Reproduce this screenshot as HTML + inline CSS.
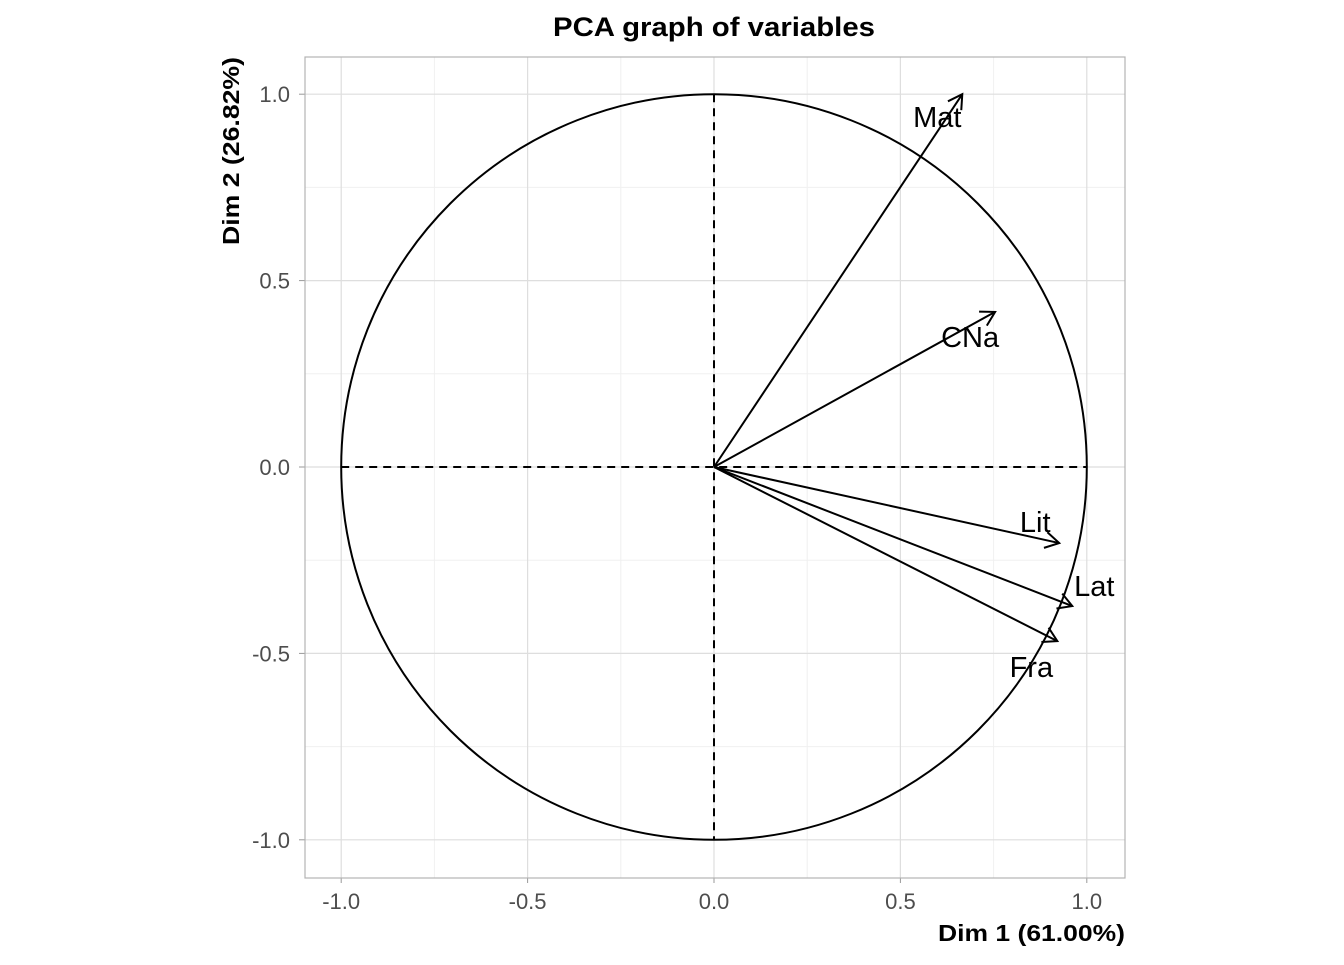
<!DOCTYPE html>
<html><head><meta charset="utf-8"><style>
body{margin:0;background:#fff;}
svg text{font-family:"Liberation Sans",Arial,sans-serif;}
</style></head><body>
<svg id="chart" width="1344" height="960" xmlns="http://www.w3.org/2000/svg">
<text x="714" y="36" text-anchor="middle" font-size="27" font-weight="bold" textLength="322" lengthAdjust="spacingAndGlyphs">PCA graph of variables</text>
<g id="grid"></g>
<g id="marks"></g>
<g id="axes"></g>
</svg>
<script>
const variables = ["Mat","CNa","Lit","Lat","Fra"];
const dim1 = [0.666, 0.754, 0.926, 0.961, 0.921];
const dim2 = [1.0, 0.416, -0.204, -0.373, -0.467];
const labelDx = [-25, -25, -24, 22, -26];
const labelDy = [33, 35, -11, -10, 36];
const ticks = [-1.0, -0.5, 0.0, 0.5, 1.0];
const tickLabels = ["-1.0","-0.5","0.0","0.5","1.0"];
const minorTicks = [-0.75, -0.25, 0.25, 0.75];

const NS="http://www.w3.org/2000/svg";
const X0=714, Y0=467, S=372.8;
const sx=v=>X0+v*S, sy=v=>Y0-v*S;
const PL=305, PR=1125, PT=57, PB=878;
function mk(tag,attrs,parent){const e=document.createElementNS(NS,tag);for(const k in attrs)e.setAttribute(k,attrs[k]);parent.appendChild(e);return e;}
const grid=document.getElementById('grid'), marks=document.getElementById('marks'), axes=document.getElementById('axes');
mk('rect',{x:PL,y:PT,width:PR-PL,height:PB-PT,fill:'#fff'},grid);
minorTicks.forEach(t=>{
  let l=mk('line',{x1:sx(t),x2:sx(t),y1:PT,y2:PB,stroke:'#f0f0f0','stroke-width':1},grid);
  
  
  l=mk('line',{x1:PL,x2:PR,y1:sy(t),y2:sy(t),stroke:'#f0f0f0','stroke-width':1},grid);
  
  
});
ticks.forEach((t,i)=>{
  let l=mk('line',{x1:sx(t),x2:sx(t),y1:PT,y2:PB,stroke:'#dedede','stroke-width':1.2},grid);
  
  
  l=mk('line',{x1:PL,x2:PR,y1:sy(t),y2:sy(t),stroke:'#dedede','stroke-width':1.2},grid);
  
  
  l=mk('line',{x1:sx(t),x2:sx(t),y1:PB,y2:PB+5,stroke:'#999'},axes);
  
  
  l=mk('line',{x1:PL-6,x2:PL,y1:sy(t),y2:sy(t),stroke:'#999'},axes);
  
  
  let tx=mk('text',{x:sx(t),y:PB+31,'text-anchor':'middle','font-size':22,fill:'#4d4d4d'},axes);
  tx.textContent=tickLabels[i];
  
  
  tx=mk('text',{x:PL-15,y:sy(t)+8,'text-anchor':'end','font-size':22,fill:'#4d4d4d'},axes);
  tx.textContent=tickLabels[i];
  
  
});
let b=mk('rect',{x:PL,y:PT,width:PR-PL,height:PB-PT,fill:'none',stroke:'#b3b3b3','stroke-width':1.2},axes);


let c=mk('circle',{cx:X0,cy:Y0,r:S,fill:'none',stroke:'#000','stroke-width':2},marks);


let h=mk('line',{x1:sx(-1),x2:sx(1),y1:Y0,y2:Y0,stroke:'#000','stroke-width':2,'stroke-dasharray':'8,6'},marks);


h=mk('line',{x1:X0,x2:X0,y1:sy(1),y2:sy(-1),stroke:'#000','stroke-width':2,'stroke-dasharray':'8,6'},marks);


variables.forEach((v,i)=>{
  const x=sx(dim1[i]), y=sy(dim2[i]);
  const ang=Math.atan2(y-Y0,x-X0), L=16, a=Math.PI/6;
  const g=mk('g',{},marks);
  
  
  mk('line',{x1:X0,y1:Y0,x2:x,y2:y,stroke:'#000','stroke-width':2},g);
  mk('polyline',{points:`${x-L*Math.cos(ang-a)},${y-L*Math.sin(ang-a)} ${x},${y} ${x-L*Math.cos(ang+a)},${y-L*Math.sin(ang+a)}`,fill:'none',stroke:'#000','stroke-width':2},g);
  const t=mk('text',{x:x+labelDx[i],y:y+labelDy[i],'text-anchor':'middle','font-size':29,fill:'#000'},marks);
  t.textContent=v;
  
  
});
let xt=mk('text',{x:PR,y:941,'text-anchor':'end','font-size':23,'font-weight':'bold',textLength:187,lengthAdjust:'spacingAndGlyphs'},axes);
xt.textContent='Dim 1 (61.00%)';


let yt=mk('text',{x:0,y:0,'text-anchor':'end','font-size':23,'font-weight':'bold',textLength:188,lengthAdjust:'spacingAndGlyphs',transform:`translate(239,${PT}) rotate(-90)`},axes);
yt.textContent='Dim 2 (26.82%)';


</script>
</body></html>
